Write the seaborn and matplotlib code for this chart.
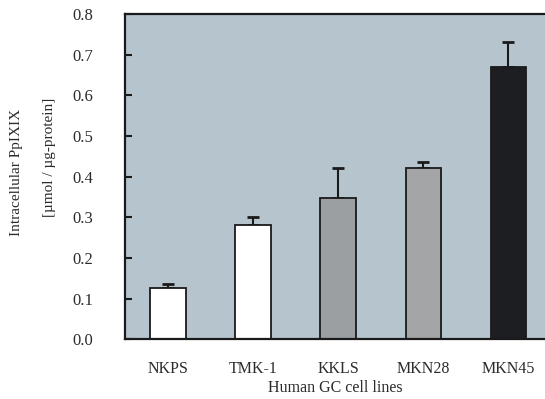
import numpy as np
import pandas as pd
import matplotlib
matplotlib.use("Agg")
import matplotlib.pyplot as plt
import seaborn as sns

# Data
cell_lines = ["NKPS", "TMK-1", "KKLS", "MKN28", "MKN45"]
ppix = [0.126, 0.281, 0.348, 0.422, 0.669]
ppix_err = [0.009, 0.020, 0.072, 0.013, 0.061]
bar_colors = ["#ffffff", "#ffffff", "#9b9fa2", "#a2a5a8", "#1c1e22"]
y_ticks = [0.0, 0.1, 0.2, 0.3, 0.4, 0.5, 0.6, 0.7, 0.8]

sns.set_style("white")
plt.rcParams["font.family"] = ["Liberation Serif", "DejaVu Serif"]

df = pd.DataFrame({"Cell": cell_lines, "PpIX": ppix})

fig = plt.figure(figsize=(5.45, 3.99), dpi=100)
ax = fig.add_axes([0.229, 0.150, 0.771, 0.815])
ax.set_facecolor("#b6c5cd")

sns.barplot(
    data=df,
    x="Cell",
    y="PpIX",
    hue="Cell",
    palette=bar_colors,
    width=0.42,
    edgecolor="#1a1a1a",
    linewidth=1.3,
    legend=False,
    zorder=2,
    ax=ax
)

# upward error bars only, drawn behind the bars so the lower cap is hidden
xpos = np.arange(len(cell_lines))
ax.errorbar(
    xpos,
    ppix,
    yerr=[np.zeros(len(ppix)), ppix_err],
    fmt="none",
    ecolor="#1a1a1a",
    elinewidth=1.5,
    capsize=4,
    capthick=2,
    zorder=1
)

ax.set_xlim(-0.51, 4.43)
ax.set_ylim(0, 0.8)
ax.set_yticks(y_ticks)
ax.set_yticklabels([f"{v:.1f}" for v in y_ticks], fontsize=12, color="#2b2b2b")
ax.set_xticks(xpos)
ax.set_xticklabels(cell_lines, fontsize=11.5, color="#2b2b2b")
ax.set_xticks(xpos[:-1] + 0.5, minor=True)
ax.tick_params(axis="x", which="major", length=0, pad=16)
ax.tick_params(axis="x", which="minor", direction="in", length=4, width=1.5, color="#1a1a1a")
ax.tick_params(axis="y", direction="in", length=5, width=1.5, color="#1a1a1a", pad=23, left=True)

for side in ["left", "bottom", "top"]:
    ax.spines[side].set_visible(True)
    ax.spines[side].set_linewidth(1.6)
    ax.spines[side].set_color("#1a1a1a")
ax.spines["right"].set_visible(False)

ax.set_xlabel("Human GC cell lines", fontsize=11.5, color="#2b2b2b", labelpad=2)
ax.set_ylabel("")

fig.text(17 / 545, 1 - 172 / 399, "Intracellular PpIXIX", rotation=90,
         ha="center", va="center", fontsize=11, color="#2b2b2b")
fig.text(50 / 545, 1 - 157 / 399, "[\u00b5mol / \u00b5g-protein]", rotation=90,
         ha="center", va="center", fontsize=11, color="#2b2b2b")

fig.savefig("out.png", dpi=100)
